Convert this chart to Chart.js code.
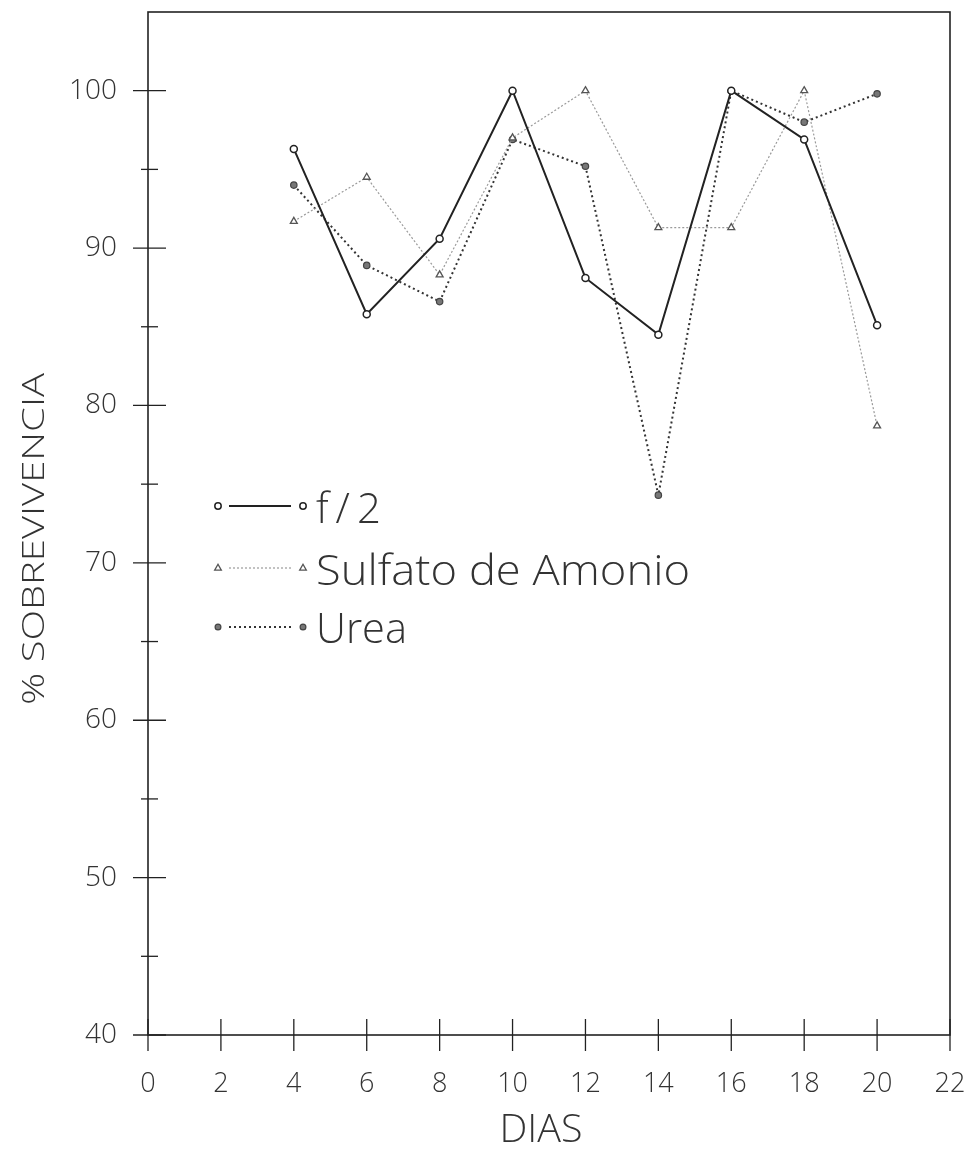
<!DOCTYPE html>
<html>
<head>
<meta charset="utf-8">
<script src="https://cdn.jsdelivr.net/npm/chart.js@4.4.1/dist/chart.umd.min.js"></script>
<style>
  html, body { margin: 0; padding: 0; background: #fff; }
  #wrap { width: 979px; height: 1150px; position: relative; }
</style>
</head>
<body>
<div id="wrap"><canvas id="c" width="979" height="1150"></canvas></div>
<script>
// Sampling days and survival (%) per culture medium
const dias = [4, 6, 8, 10, 12, 14, 16, 18, 20];
const f2 = [96.3, 85.8, 90.6, 100, 88.1, 84.5, 100, 96.9, 85.1];
const sulfato = [91.7, 94.5, 88.3, 97.0, 100, 91.3, 91.3, 100, 78.7];
const urea = [94.0, 88.9, 86.6, 96.9, 95.2, 74.3, 100, 98.0, 99.8];

const seriesNames = ['f/2', 'Sulfato de Amonio', 'Urea'];
const xTicks = [0, 2, 4, 6, 8, 10, 12, 14, 16, 18, 20, 22];
const yTicks = [40, 50, 60, 70, 80, 90, 100];
const yMinorTicks = [45, 55, 65, 75, 85, 95];
const xTitle = 'DIAS';
const yTitle = '% SOBREVIVENCIA';

const FONT = '"Open Sans", "Noto Sans", "DejaVu Sans", sans-serif';

function pts(vals) { return dias.map((d, i) => ({ x: d, y: vals[i] })); }

// Text squeezed or stretched horizontally to a given width
function fitText(ctx, text, x, y, width) {
  const w = ctx.measureText(text).width;
  ctx.save();
  ctx.translate(x, y);
  ctx.scale(width / w, 1);
  ctx.fillText(text, 0, 0);
  ctx.restore();
}

function drawMarker(ctx, d, mx, y) {
  const r = d.pointRadius - 0.3;
  ctx.save();
  ctx.strokeStyle = d.pointBorderColor;
  ctx.fillStyle = d.pointBackgroundColor;
  ctx.lineWidth = d.pointBorderWidth;
  ctx.beginPath();
  if (d.pointStyle === 'triangle') {
    ctx.moveTo(mx, y - r);
    ctx.lineTo(mx + r * 0.9, y + r * 0.6);
    ctx.lineTo(mx - r * 0.9, y + r * 0.6);
    ctx.closePath();
  } else {
    ctx.arc(mx, y, r, 0, Math.PI * 2);
  }
  ctx.fill();
  ctx.stroke();
  ctx.restore();
}

// Draws frame, crossing ticks, tick labels, axis titles and the legend
const axesPlugin = {
  id: 'plotFrame',
  afterDraw(chart) {
    const { ctx, chartArea: a, scales } = chart;
    const xs = scales.x, ys = scales.y;
    ctx.save();
    ctx.strokeStyle = '#222';
    ctx.lineWidth = 1.6;
    ctx.strokeRect(a.left, a.top, a.right - a.left, a.bottom - a.top);

    // x ticks cross the bottom axis
    ctx.lineWidth = 1.3;
    xTicks.forEach(v => {
      const px = xs.getPixelForValue(v);
      ctx.beginPath();
      ctx.moveTo(px, a.bottom - 16);
      ctx.lineTo(px, a.bottom + 16);
      ctx.stroke();
    });
    // y ticks cross the left axis
    yTicks.forEach(v => {
      const py = ys.getPixelForValue(v);
      ctx.beginPath();
      ctx.moveTo(a.left - 15, py);
      ctx.lineTo(a.left + 18, py);
      ctx.stroke();
    });
    yMinorTicks.forEach(v => {
      const py = ys.getPixelForValue(v);
      ctx.beginPath();
      ctx.moveTo(a.left - 7, py);
      ctx.lineTo(a.left + 10, py);
      ctx.stroke();
    });

    ctx.fillStyle = '#333';
    // y tick labels
    ctx.font = '300 28px ' + FONT;
    ctx.textAlign = 'right';
    ctx.textBaseline = 'middle';
    yTicks.forEach(v => {
      ctx.fillText(String(v), a.left - 31, ys.getPixelForValue(v));
    });

    // x tick labels
    ctx.font = '300 27px ' + FONT;
    ctx.textAlign = 'center';
    ctx.textBaseline = 'alphabetic';
    xTicks.forEach(v => {
      ctx.fillText(String(v), xs.getPixelForValue(v), a.bottom + 57);
    });

    // x title
    ctx.font = '300 38px ' + FONT;
    ctx.textAlign = 'center';
    fitText(ctx, xTitle, 541, 1142, 83);

    // y title
    ctx.save();
    ctx.font = '300 32px ' + FONT;
    ctx.translate(44, 539);
    ctx.rotate(-Math.PI / 2);
    ctx.textAlign = 'center';
    fitText(ctx, yTitle, 0, 0, 332);
    ctx.restore();

    // legend
    const ds = chart.data.datasets;
    const rows = [506, 568, 627];
    const baselines = [523, 585, 643];
    const widths = [67, 374, 91];
    ds.forEach((d, i) => {
      const y = rows[i];
      ctx.save();
      ctx.strokeStyle = d.borderColor;
      ctx.lineWidth = d.borderWidth;
      ctx.setLineDash(d.borderDash || []);
      ctx.beginPath();
      ctx.moveTo(229, y);
      ctx.lineTo(291, y);
      ctx.stroke();
      ctx.restore();
      drawMarker(ctx, d, 218, y);
      drawMarker(ctx, d, 303, y);
      ctx.fillStyle = '#333';
      ctx.font = '300 42px ' + FONT;
      ctx.textAlign = 'left';
      ctx.textBaseline = 'alphabetic';
      if (i === 0) {
        ctx.save();
        ctx.letterSpacing = '7px';
        ctx.fillText(d.label, 316, baselines[i]);
        ctx.restore();
      } else {
        fitText(ctx, d.label, 316, baselines[i], widths[i]);
      }
    });
    ctx.restore();
  }
};

new Chart(document.getElementById('c'), {
  type: 'line',
  data: {
    datasets: [
      {
        label: seriesNames[0],
        data: pts(f2),
        borderColor: '#222',
        borderWidth: 2,
        pointStyle: 'circle',
        pointRadius: 3.5,
        pointBorderWidth: 1.5,
        pointBorderColor: '#222',
        pointBackgroundColor: '#fff',
        tension: 0
      },
      {
        label: seriesNames[1],
        data: pts(sulfato),
        borderColor: '#9a9a9a',
        borderWidth: 1.2,
        borderDash: [2, 2],
        pointStyle: 'triangle',
        pointRadius: 4,
        pointBorderWidth: 1.3,
        pointBorderColor: '#555',
        pointBackgroundColor: '#fff',
        tension: 0
      },
      {
        label: seriesNames[2],
        data: pts(urea),
        borderColor: '#333',
        borderWidth: 2,
        borderDash: [2, 3],
        pointStyle: 'circle',
        pointRadius: 3.2,
        pointBorderWidth: 1.2,
        pointBorderColor: '#444',
        pointBackgroundColor: '#777',
        tension: 0
      }
    ]
  },
  options: {
    responsive: false,
    animation: false,
    layout: { padding: { left: 148, right: 29, top: 12, bottom: 115 } },
    plugins: { legend: { display: false }, tooltip: { enabled: false } },
    scales: {
      x: { type: 'linear', min: 0, max: 22, display: false },
      y: { type: 'linear', min: 40, max: 105, display: false }
    }
  },
  plugins: [axesPlugin]
});
</script>
</body>
</html>
